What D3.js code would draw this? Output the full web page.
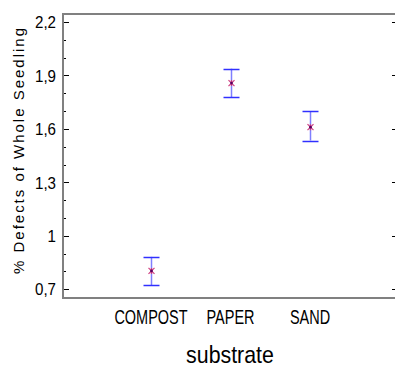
<!DOCTYPE html>
<html><head><meta charset="utf-8">
<script src="https://cdn.jsdelivr.net/npm/d3@7"></script>
<style>
html,body{margin:0;padding:0;background:#fff;}
svg{display:block;}
text{font-family:"Liberation Sans",Arial,sans-serif;fill:#000;}
</style></head>
<body><svg id="c" width="395" height="369"></svg>
<script>
const categories = ["COMPOST", "PAPER", "SAND"];
const means = [0.803, 1.857, 1.610];
const lower = [0.724, 1.778, 1.535];
const upper = [0.882, 1.938, 1.700];
const yTicks = [0.7, 1.0, 1.3, 1.6, 1.9, 2.2];
const yTickLabels = ["0,7", "1", "1,3", "1,6", "1,9", "2,2"];
const yMinorTicks = [0.8, 0.9, 1.1, 1.2, 1.4, 1.5, 1.7, 1.8, 2.0, 2.1];
const xTitle = "substrate";
const yTitle = "% Defects of Whole Seedling";

const svg = d3.select("#c");
const L = 63, R = 398, T = 14, B = 298;
const y = d3.scaleLinear().domain([0.7, 2.2]).range([289.3, 22]);
const x = d3.scalePoint().domain(categories).range([L, R]).padding(1.107);

const frame = "#808080";
const py = d => Math.round(y(d)) + 0.5;
svg.append("g").selectAll("line").data(yMinorTicks).join("line")
  .attr("x1", L).attr("x2", L + 3).attr("y1", py).attr("y2", py)
  .attr("stroke", "#000").attr("stroke-width", 1);
svg.append("g").selectAll("line").data(yMinorTicks).join("line")
  .attr("x1", R).attr("x2", R - 3).attr("y1", py).attr("y2", py)
  .attr("stroke", "#ddd").attr("stroke-width", 1);
svg.append("g").selectAll("line").data(yTicks).join("line")
  .attr("x1", L).attr("x2", L + 6).attr("y1", py).attr("y2", py)
  .attr("stroke", "#000").attr("stroke-width", 1);
svg.append("g").selectAll("line").data(yTicks).join("line")
  .attr("x1", R).attr("x2", R - 6).attr("y1", py).attr("y2", py)
  .attr("stroke", "#000").attr("stroke-width", 1);
svg.append("g").selectAll("text").data(yTicks).join("text")
  .attr("transform", d => `translate(56,${y(d)}) scale(0.89,1)`).attr("dy", "0.36em")
  .attr("text-anchor", "end").attr("font-size", 17)
  .text((d, i) => yTickLabels[i]);

svg.append("line").attr("x1", L).attr("x2", L).attr("y1", T).attr("y2", B).attr("stroke", frame).attr("stroke-width", 2);
svg.append("line").attr("x1", L - 1).attr("x2", 400).attr("y1", T).attr("y2", T).attr("stroke", frame).attr("stroke-width", 2);
svg.append("line").attr("x1", L - 1).attr("x2", 400).attr("y1", B).attr("y2", B).attr("stroke", frame).attr("stroke-width", 2);

const g = svg.append("g");
categories.forEach((c, i) => {
  const cx = Math.round(x(c)) + 0.5;
  g.append("line").attr("x1", cx).attr("x2", cx).attr("y1", y(upper[i])).attr("y2", y(lower[i]))
    .attr("stroke", "#7f7fff").attr("stroke-width", 1.5);
  [upper[i], lower[i]].forEach(v => {
    g.append("line").attr("x1", cx - 8).attr("x2", cx + 8)
      .attr("y1", py(v)).attr("y2", py(v))
      .attr("stroke", "#3030ff").attr("stroke-width", 1.5);
  });
  const cy = y(means[i]);
  const s = 3;
  g.append("path")
    .attr("d", `M${cx - s},${cy - s}L${cx + s},${cy + s}M${cx - s},${cy + s}L${cx + s},${cy - s}M${cx},${cy - s}L${cx},${cy + s}`)
    .attr("stroke", "#d04080").attr("stroke-width", 1.2).attr("fill", "none");
  g.append("circle").attr("cx", cx).attr("cy", cy).attr("r", 1.4).attr("fill", "#5a0060");
});

svg.append("g").selectAll("text").data(categories).join("text")
  .attr("transform", d => `translate(${x(d)},323.5) scale(0.69,1)`).attr("text-anchor", "middle").attr("font-size", 21)
  .text(d => d);

svg.append("text").attr("transform", "translate(230,363) scale(0.89,1)").attr("text-anchor", "middle").attr("font-size", 24)
  .text(xTitle);

svg.append("text").attr("transform", "translate(23.5,151) rotate(-90)").attr("text-anchor", "middle")
  .attr("font-size", 15).attr("fill", "#111")
  .text(yTitle)
  .attr("textLength", 246).attr("lengthAdjust", "spacing");
</script></body></html>
